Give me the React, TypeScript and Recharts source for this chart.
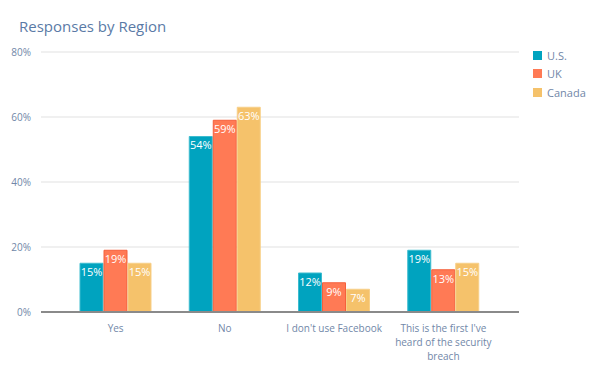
import React from 'react';
import { BarChart, Bar, XAxis, YAxis, CartesianGrid, LabelList } from 'recharts';

const categories = ['Yes', 'No', "I don't use Facebook", "This is the first I've heard of the security breach"];
const usValues = [15, 54, 12, 19];
const ukValues = [19, 59, 9, 13];
const canadaValues = [15, 63, 7, 15];
const yTicks = [0, 20, 40, 60, 80];

const seriesList = [
  { key: 'us', name: 'U.S.', fill: '#00a3bf', stroke: '#3cbccf' },
  { key: 'uk', name: 'UK', fill: '#ff7a55', stroke: '#f5603c' },
  { key: 'canada', name: 'Canada', fill: '#f5c26b', stroke: '#f7cf88' },
];

const data = categories.map((c, i) => ({
  name: c,
  us: usValues[i],
  uk: ukValues[i],
  canada: canadaValues[i],
}));

const FONT = '"Open Sans", sans-serif';
const TEXT_COLOR = '#7187a8';

// greedy word wrap by character count
const wrap = (s: string, max: number) => {
  const lines: string[] = [];
  let cur = '';
  s.split(' ').forEach((w) => {
    const next = cur ? cur + ' ' + w : w;
    if (next.length > max && cur) {
      lines.push(cur);
      cur = w;
    } else {
      cur = next;
    }
  });
  if (cur) lines.push(cur);
  return lines;
};

const CategoryTick = (props: any) => {
  const { x, y, payload } = props;
  const lines = wrap(payload.value, 22);
  return (
    <text x={x} y={y} textAnchor="middle" fill={TEXT_COLOR} fontSize={10} fontFamily={FONT}>
      {lines.map((l, i) => (
        <tspan key={i} x={x} dy={i === 0 ? 11 : 14}>
          {l}
        </tspan>
      ))}
    </text>
  );
};

const pct = (v: number) => `${v}%`;

export default function App() {
  return (
    <div style={{ position: 'absolute', left: 0, top: 0, width: 598, height: 370, background: '#fff' }}>
      <div
        style={{
          position: 'absolute',
          left: 19,
          top: 16,
          fontFamily: FONT,
          fontSize: 15,
          color: '#5a7aa6',
        }}
      >
        Responses by Region
      </div>
      {/* legend */}
      <div style={{ position: 'absolute', left: 533, top: 46, fontFamily: FONT, fontSize: 11, color: TEXT_COLOR }}>
        {seriesList.map((s) => (
          <div key={s.key} style={{ display: 'flex', alignItems: 'center', height: 18.5 }}>
            <span style={{ width: 9, height: 9, background: s.fill, marginRight: 5 }} />
            <span>{s.name}</span>
          </div>
        ))}
      </div>
      <BarChart
        width={598}
        height={370}
        data={data}
        margin={{ top: 52, right: 79, bottom: 0, left: 0 }}
        barCategoryGap={19}
        barGap={1}
      >
        <CartesianGrid vertical={false} stroke="#e2e2e2" strokeWidth={1.2} />
        <YAxis
          width={41}
          domain={[0, 80]}
          ticks={yTicks}
          tickFormatter={pct}
          axisLine={false}
          tickLine={false}
          tickMargin={4}
          tick={{ fill: TEXT_COLOR, fontSize: 10, fontFamily: FONT }}
        />
        <XAxis
          dataKey="name"
          height={58}
          interval={0}
          padding={{ left: 20, right: 21 }}
          tickLine={false}
          axisLine={{ stroke: '#8a8a8a', strokeWidth: 2 }}
          tickMargin={3}
          tick={<CategoryTick />}
        />
        {seriesList.map((s) => (
          <Bar
            key={s.key}
            dataKey={s.key}
            name={s.name}
            fill={s.fill}
            stroke={s.stroke}
            strokeWidth={1}
            isAnimationActive={false}
          >
            <LabelList dataKey={s.key} position="insideTop" offset={5} formatter={pct} fill="#fff" fontSize={11} fontFamily={FONT} />
          </Bar>
        ))}
      </BarChart>
    </div>
  );
}
